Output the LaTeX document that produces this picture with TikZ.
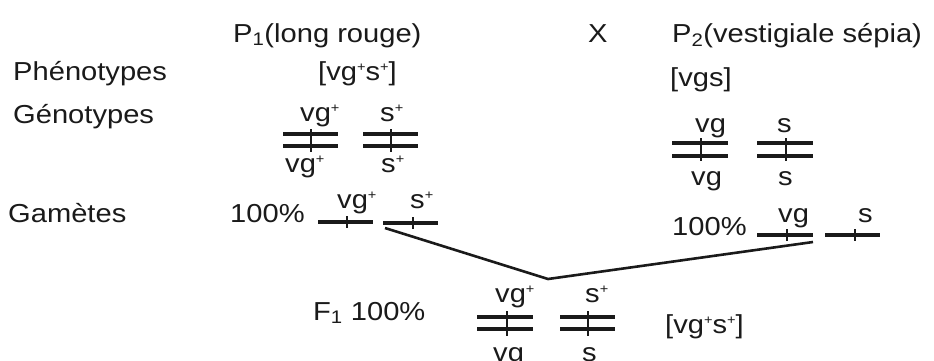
\documentclass[tikz,border=0pt]{standalone}
\usepackage{fontspec}
\setmainfont{Liberation Sans}[FakeStretch=1.12]
\newcommand\plusup{\raisebox{0.62ex}{\fontsize{13}{13}\selectfont+}}
\definecolor{ink}{HTML}{1A1A1A}
\begin{document}
\begin{tikzpicture}[x=1pt,y=-1pt,
  lbl/.style={anchor=base west, inner sep=0pt, text=ink, font=\fontsize{26}{30}\selectfont},
  chrom/.style={line width=3.4pt, ink},
  tick/.style={line width=2pt, ink},
  link/.style={line width=2.6pt, ink, line join=round}]
\useasboundingbox (0,0) rectangle (934,360);
\fill[white] (0,0) rectangle (934,360);

% header
\node[lbl] (p1) at (233,42) {P\textsubscript{1}(long rouge)};
\node[lbl] (x) at (588,42) {X};
\node[lbl] (p2) at (672,42) {P\textsubscript{2}(vestigiale sépia)};
\node[lbl] (phen) at (13,80) {Phénotypes};
\node[lbl] (ph1) at (318,80) {[vg\plusup s\plusup]};
\node[lbl] (ph2) at (670,86) {[vgs]};
\node[lbl] (gen) at (13,123) {Génotypes};
\node[lbl] (gam) at (8,222) {Gamètes};

% P1 genotype
\node[lbl] (a1t) at (300,121) {vg\plusup};
\node[lbl] (a1b) at (285,172) {vg\plusup};
\draw[chrom] (283,134) -- (338,134) (283,146) -- (338,146);
\draw[tick] (311,129) -- (311,152);
\node[lbl] (b1t) at (380,121) {s\plusup};
\node[lbl] (b1b) at (381,172) {s\plusup};
\draw[chrom] (363,134) -- (418,134) (363,146) -- (418,146);
\draw[tick] (391,129) -- (391,152);

% P2 genotype
\node[lbl] (a2t) at (695,132) {vg};
\node[lbl] (a2b) at (691,185) {vg};
\draw[chrom] (672,143) -- (728,143) (672,156) -- (728,156);
\draw[tick] (701,138) -- (701,161);
\node[lbl] (b2t) at (777,132) {s};
\node[lbl] (b2b) at (778,185) {s};
\draw[chrom] (757,143) -- (813,143) (757,156) -- (813,156);
\draw[tick] (786,138) -- (786,161);

% gametes P1
\node[lbl] (pc1) at (230,222) {100\%};
\node[lbl] (g1a) at (337,208) {vg\plusup};
\node[lbl] (g1b) at (410,208) {s\plusup};
\draw[chrom] (318,222) -- (373,222);
\draw[tick] (347,216) -- (347,228);
\draw[chrom] (383,223) -- (438,223);
\draw[tick] (413,217) -- (413,229);

% gametes P2
\node[lbl] (pc2) at (672,235) {100\%};
\node[lbl] (g2a) at (778,222) {vg};
\node[lbl] (g2b) at (858,222) {s};
\draw[chrom] (757,235) -- (813,235);
\draw[tick] (787,229) -- (787,241);
\draw[chrom] (825,235) -- (880,235);
\draw[tick] (855,229) -- (855,241);

% connector
\coordinate (c1) at (385,228);
\coordinate (v) at (548,279);
\coordinate (c2) at (813,242);
\draw[link] (c1) -- (v) -- (c2);

% F1
\node[lbl] (f1) at (313,320) {F\textsubscript{1} 100\%};
\node[lbl] (fat) at (495,302) {vg\plusup};
\node[lbl] (fab) at (493,361) {vg};
\draw[chrom] (477,317) -- (533,317) (477,329) -- (533,329);
\draw[tick] (507,311) -- (507,336);
\node[lbl] (fbt) at (585,302) {s\plusup};
\node[lbl] (fbb) at (582,361) {s};
\draw[chrom] (560,317) -- (615,317) (560,329) -- (615,329);
\draw[tick] (588,311) -- (588,336);
\node[lbl] (fph) at (665,333) {[vg\plusup s\plusup]};
\end{tikzpicture}
\end{document}
